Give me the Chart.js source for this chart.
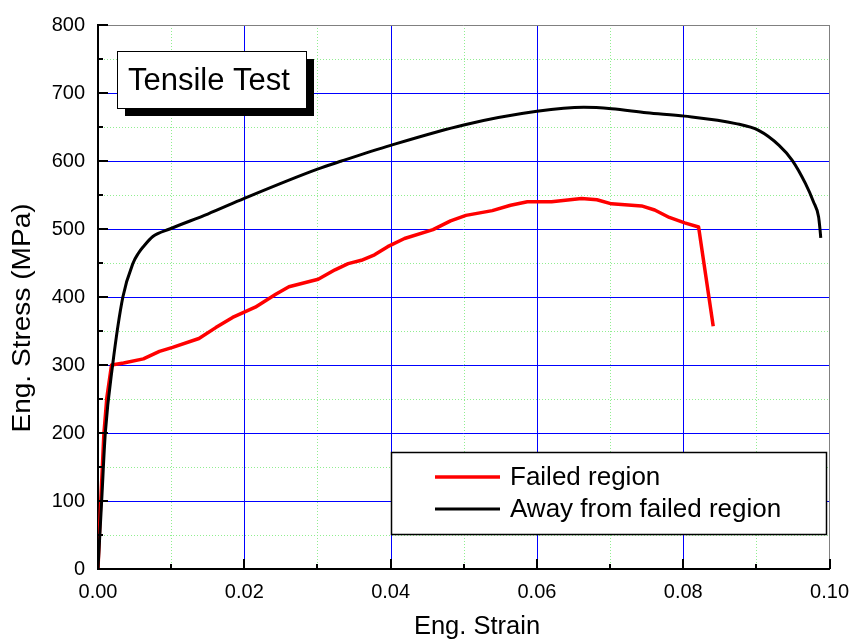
<!DOCTYPE html>
<html>
<head>
<meta charset="utf-8">
<title>Tensile Test</title>
<script src="https://cdn.jsdelivr.net/npm/chart.js@4.4.1/dist/chart.umd.min.js"></script>
<style>
  html, body { margin: 0; padding: 0; background: #ffffff; }
  canvas { display: block; }
</style>
</head>
<body>
<canvas id="chart" width="860" height="642"></canvas>
<script>
const failedStrain = [0, 0.0003, 0.0008, 0.0012, 0.00185, 0.0035, 0.0062, 0.0084, 0.0102, 0.0138,
  0.0161, 0.0184, 0.0215, 0.0243, 0.0261, 0.0301, 0.0324, 0.0342, 0.036, 0.0378,
  0.0396, 0.0419, 0.0458, 0.0482, 0.0503, 0.0539, 0.0564, 0.0587, 0.062, 0.0661,
  0.0682, 0.0702, 0.0743, 0.0761, 0.0781, 0.0802, 0.0821, 0.0841];
const failedStress = [0, 81, 198, 251, 300, 303, 309, 320, 326, 339,
  355, 370, 385, 404, 415, 426, 440, 449, 454, 462,
  474, 486, 499, 512, 520, 527, 535, 540, 540, 545,
  543, 537, 534, 528, 517, 509, 503, 357];

const awayStrain = [0, 0.0005, 0.001, 0.002, 0.0034, 0.0048, 0.0055, 0.0062, 0.0075, 0.0098,
  0.015, 0.02, 0.03, 0.0333, 0.04, 0.05, 0.06, 0.0664, 0.0702, 0.075,
  0.0802, 0.0872, 0.0903, 0.0931, 0.0949, 0.0967, 0.0978, 0.0985, 0.0987, 0.0988];
const awayStress = [0, 100, 200, 300, 400, 450, 464, 474, 489, 500,
  522, 545, 588, 600, 623, 653, 673, 679, 677, 671,
  666, 655, 645, 623, 601, 567, 540, 518, 499, 487];

const seriesLabels = ["Failed region", "Away from failed region"];
const boxTitle = "Tensile Test";
const xTitle = "Eng. Strain";
const yTitle = "Eng. Stress (MPa)";

const xMin = 0;
const xMax = 0.1;
const xStep = 0.01;
const yMin = 0;
const yMax = 800;
const yStep = 50;

const FONT = "'Liberation Sans', Arial, Helvetica, sans-serif";

function toPoints(xs, ys) {
  return xs.map((x, i) => ({ x: x, y: ys[i] }));
}

function isMajorX(value) {
  return Math.round(value / xStep) % 2 === 0;
}

function isMajorY(value) {
  return Math.round(value / yStep) % 2 === 0;
}

function hLine(ctx, x1, x2, y) {
  ctx.moveTo(x1, y);
  ctx.lineTo(x2, y);
}

function vLine(ctx, x, y1, y2) {
  ctx.moveTo(x, y1);
  ctx.lineTo(x, y2);
}

// grid (blue major, green dotted minor), grey frame, inward tick marks
const frameTicks = {
  id: "frameTicks",
  beforeDatasetsDraw(chart) {
    const { ctx, chartArea: a, scales } = chart;
    const xs = scales.x.ticks.map((t) => ({ major: isMajorX(t.value), p: Math.round(scales.x.getPixelForValue(t.value)) + 0.5, v: t.value }));
    const ys = scales.y.ticks.map((t) => ({ major: isMajorY(t.value), p: Math.round(scales.y.getPixelForValue(t.value)) + 0.5, v: t.value }));
    ctx.save();
    ctx.lineWidth = 1;

    ctx.strokeStyle = "#90ee90";
    ctx.setLineDash([1, 2]);
    ctx.beginPath();
    xs.filter((t) => !t.major).forEach((t) => vLine(ctx, t.p, a.top, a.bottom));
    ys.filter((t) => !t.major).forEach((t) => hLine(ctx, a.left, a.right, t.p));
    ctx.stroke();

    ctx.setLineDash([]);
    ctx.strokeStyle = "#0000ff";
    ctx.beginPath();
    xs.filter((t) => t.major && t.v > xMin && t.v < xMax - 1e-9).forEach((t) => vLine(ctx, t.p, a.top, a.bottom));
    ys.filter((t) => t.major && t.v > yMin && t.v < yMax - 1e-9).forEach((t) => hLine(ctx, a.left, a.right, t.p));
    ctx.stroke();

    ctx.strokeStyle = "#808080";
    ctx.beginPath();
    hLine(ctx, a.left, a.right, Math.round(a.top) + 0.5);
    vLine(ctx, Math.round(a.right) - 0.5, a.top, a.bottom);
    ctx.stroke();
    ctx.restore();
  },
  afterDatasetsDraw(chart) {
    const { ctx, chartArea: a, scales } = chart;
    ctx.save();
    ctx.strokeStyle = "#000000";
    ctx.lineWidth = 2;
    ctx.beginPath();
    scales.x.ticks.forEach((t) => {
      const px = Math.round(scales.x.getPixelForValue(t.value));
      vLine(ctx, px, a.bottom, a.bottom - (isMajorX(t.value) ? 10 : 5));
    });
    scales.y.ticks.forEach((t) => {
      const py = Math.round(scales.y.getPixelForValue(t.value));
      hLine(ctx, a.left, a.left + (isMajorY(t.value) ? 10 : 5), py);
    });
    ctx.stroke();
    ctx.restore();
  },
};

// axis titles, "Tensile Test" box with its shadow, and the legend box
const boxes = {
  id: "boxes",
  afterDatasetsDraw(chart) {
    const ctx = chart.ctx;
    ctx.save();
    ctx.fillStyle = "#000000";
    ctx.textBaseline = "middle";
    ctx.textAlign = "center";
    ctx.font = "25.5px " + FONT;
    ctx.fillText(xTitle, 477, 627);

    ctx.save();
    ctx.translate(23, 318);
    ctx.rotate(-Math.PI / 2);
    ctx.scale(1.1, 1);
    ctx.fillText(yTitle, 0, 0);
    ctx.restore();

    ctx.fillStyle = "#000000";
    ctx.fillRect(125, 59, 189, 57);
    ctx.fillStyle = "#ffffff";
    ctx.fillRect(117, 51, 189, 57);
    ctx.strokeStyle = "#000000";
    ctx.lineWidth = 1;
    ctx.strokeRect(117.5, 51.5, 189, 57);
    ctx.fillStyle = "#000000";
    ctx.font = "31px " + FONT;
    ctx.textBaseline = "alphabetic";
    ctx.textAlign = "left";
    ctx.fillText(boxTitle, 128, 90);

    ctx.fillStyle = "#ffffff";
    ctx.fillRect(391, 452, 435, 82);
    ctx.lineWidth = 1.5;
    ctx.strokeRect(391.5, 452.5, 435, 82);

    ctx.font = "26px " + FONT;
    ctx.textBaseline = "middle";
    chart.data.datasets.forEach((ds, i) => {
      const y = 477 + i * 32;
      ctx.strokeStyle = ds.borderColor;
      ctx.lineWidth = ds.borderWidth;
      ctx.beginPath();
      ctx.moveTo(435, y);
      ctx.lineTo(500, y);
      ctx.stroke();
      ctx.fillStyle = "#000000";
      ctx.fillText(ds.label, 510, y + 1);
    });

    ctx.restore();
  },
};

const data = {
  datasets: [
    {
      label: seriesLabels[0],
      data: toPoints(failedStrain, failedStress),
      borderColor: "#ff0000",
      backgroundColor: "#ff0000",
      borderWidth: 3.5,
      pointRadius: 0,
      tension: 0,
      borderJoinStyle: "round",
      order: 1,
    },
    {
      label: seriesLabels[1],
      data: toPoints(awayStrain, awayStress),
      borderColor: "#000000",
      backgroundColor: "#000000",
      borderWidth: 3,
      pointRadius: 0,
      cubicInterpolationMode: "monotone",
      borderJoinStyle: "round",
      order: 0,
    },
  ],
};

const config = {
  type: "line",
  data: data,
  plugins: [frameTicks, boxes],
  options: {
    responsive: false,
    animation: false,
    layout: { padding: { left: 0, top: 20, right: 26, bottom: 0 } },
    plugins: {
      legend: { display: false },
      tooltip: { enabled: false },
    },
    scales: {
      x: {
        type: "linear",
        min: xMin,
        max: xMax,
        afterFit(scale) {
          scale.height = 73;
        },
        ticks: {
          stepSize: xStep,
          autoSkip: false,
          maxRotation: 0,
          padding: 11,
          color: "#000000",
          font: { family: FONT, size: 20 },
          callback: (value) => (isMajorX(value) ? value.toFixed(2) : ""),
        },
        grid: { display: false, drawTicks: false },
        border: { display: true, color: "#000000", width: 2 },
        title: { display: false, text: xTitle },
      },
      y: {
        type: "linear",
        min: yMin,
        max: yMax,
        afterFit(scale) {
          scale.width = 98;
        },
        ticks: {
          stepSize: yStep,
          autoSkip: false,
          padding: 13,
          color: "#000000",
          font: { family: FONT, size: 20 },
          callback: (value) => (isMajorY(value) ? String(value) : ""),
        },
        grid: { display: false, drawTicks: false },
        border: { display: true, color: "#000000", width: 2 },
        title: { display: false, text: yTitle },
      },
    },
  },
};

const chart = new Chart(document.getElementById("chart"), config);
</script>
</body>
</html>
